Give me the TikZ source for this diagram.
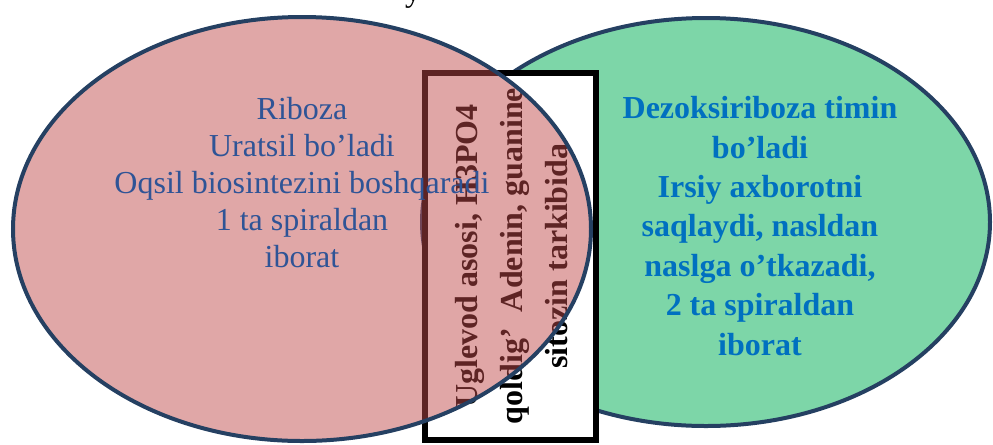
\documentclass[tikz,border=0pt]{standalone}
\usepackage{fontspec}
\setmainfont{Liberation Serif}
\usepackage{xcolor}
\definecolor{rnapink}{RGB}{192,75,75}
\definecolor{dnagreen}{RGB}{125,214,168}
\definecolor{rimnavy}{RGB}{37,64,98}
\definecolor{rnatext}{RGB}{47,84,150}
\definecolor{dnatext}{RGB}{0,112,192}
\tikzset{
	venn/.style={draw=rimnavy, line width=3pt},
	sidetext/.style={align=center, inner sep=0pt}
}

\begin{document}
\begin{tikzpicture}[x=0.75pt, y=-0.75pt]
	\useasboundingbox (0,0) rectangle (993,444);
	\node[anchor=base, font=\fontsize{24}{28}\selectfont] (title) at (413,1) {y};
	\fill[color=dnagreen] (706,222) ellipse (284 and 204);
	\draw[venn] (706,222) ellipse (284 and 204);
	\draw[line width=4.5pt, fill=white] (425,73) rectangle (596,440);
	\node[rotate=90, sidetext, font=\fontsize{24}{33.75}\selectfont\bfseries] (common) at (512,256)
		{Uglevod asosi, H3PO4\\qoldig’~ Adenin, guanine\\sitozin tarkibida};
	\fill[color=rnapink, opacity=0.49] (302,229) ellipse (289 and 212);
	\draw[venn] (302,229) ellipse (289 and 212);
	\node[sidetext, text=rnatext, font=\fontsize{24}{27.75}\selectfont] (rna) at (302,183)
		{Riboza\\Uratsil bo’ladi\\Oqsil biosintezini boshqaradi\\1 ta spiraldan\\iborat};
	\node[sidetext, text=dnatext, font=\fontsize{24}{29.6}\selectfont\bfseries] (dna) at (760,226)
		{Dezoksiriboza timin\\bo’ladi\\Irsiy axborotni\\saqlaydi, nasldan\\naslga o’tkazadi,\\2 ta spiraldan\\iborat};
\end{tikzpicture}
\end{document}
